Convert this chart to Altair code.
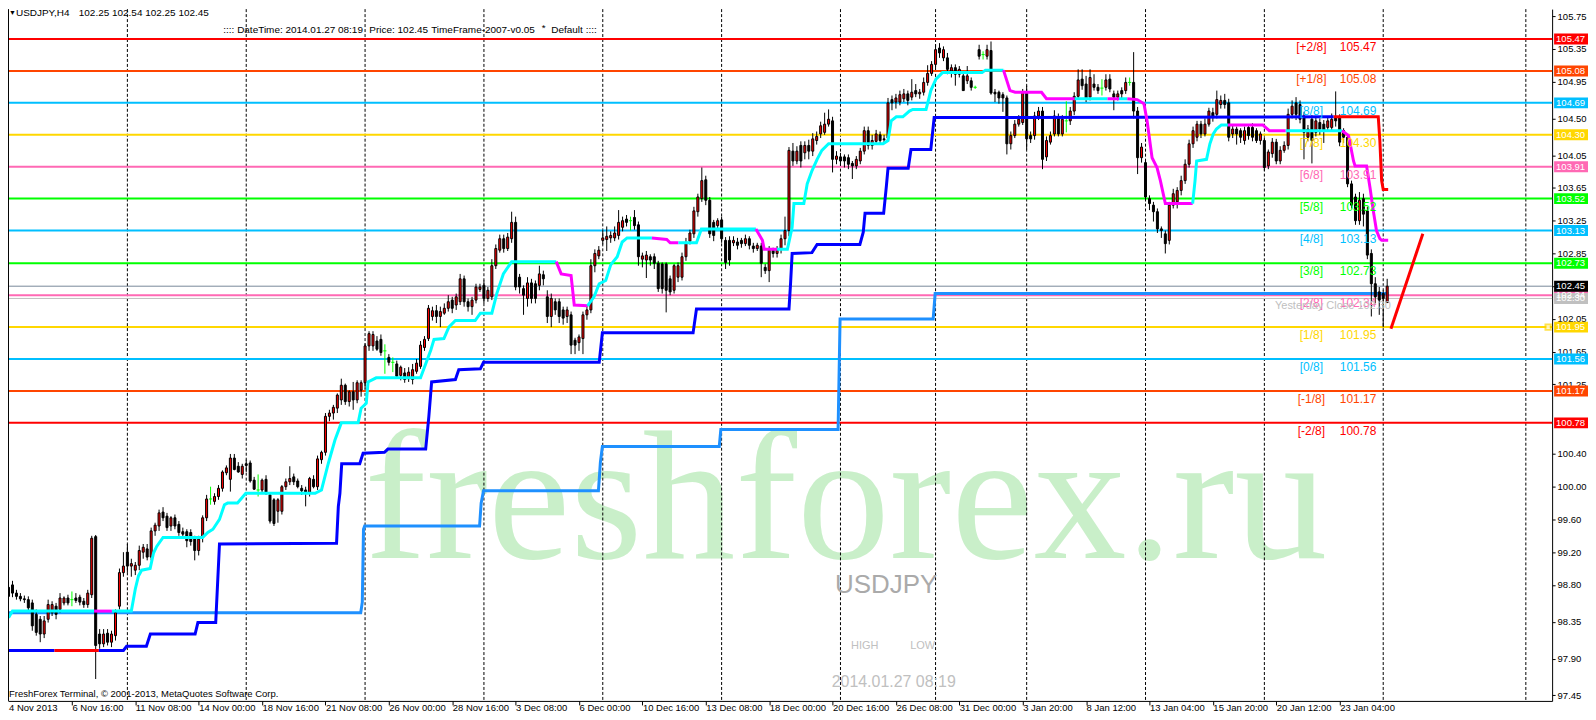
import altair as alt
import pandas as pd

# ---------------- bar data (USDJPY H4) ----------------
OPEN = [
98.77,98.80,98.70,98.66,98.63,98.62,98.58,98.44,98.38,98.20,
98.38,98.46,98.54,98.50,98.58,98.64,98.62,98.64,98.65,98.60,
98.56,98.68,99.39,98.20,98.08,98.21,98.10,98.18,98.54,98.95,
99.20,99.03,98.98,99.04,99.20,99.24,99.14,99.46,99.52,99.69,
99.64,99.52,99.62,99.54,99.45,99.45,99.44,99.36,99.22,99.38,
99.62,99.85,99.82,99.88,99.98,100.17,100.09,100.35,100.25,100.15,
100.28,100.29,100.08,99.96,99.96,100.09,99.90,99.84,99.70,99.70,
100.00,100.06,100.12,100.07,99.98,99.96,99.93,100.09,100.00,100.33,
100.42,100.86,100.90,100.96,101.06,101.24,101.04,101.16,101.06,101.18,
101.27,101.72,101.72,101.78,101.80,101.66,101.58,101.52,101.50,101.36,
101.39,101.32,101.31,101.41,101.47,101.70,101.81,102.08,102.15,102.08,
102.12,102.18,102.28,102.22,102.26,102.54,102.26,102.20,102.28,102.41,
102.46,102.30,102.32,102.70,102.89,103.03,102.91,103.03,103.23,102.56,
102.42,102.30,102.49,102.48,102.46,102.59,102.32,102.08,102.26,102.26,
102.16,102.08,102.10,101.79,101.76,101.81,102.10,102.16,102.70,102.82,
103.01,103.02,103.04,103.04,103.07,103.17,103.27,103.25,103.29,103.20,
102.78,102.77,102.81,102.81,102.73,102.72,102.72,102.54,102.40,102.56,
102.56,102.81,103.00,103.09,103.36,103.52,103.75,103.50,103.23,103.19,
103.26,103.01,103.01,102.98,102.99,103.01,102.97,103.03,102.94,102.91,
102.94,102.68,102.64,102.89,102.85,102.91,103.03,103.13,104.10,103.98,
104.17,104.08,104.17,104.10,104.23,104.31,104.33,104.43,104.47,104.00,
104.03,104.03,104.02,103.95,103.92,103.98,104.10,104.35,104.17,104.22,
104.30,104.25,104.26,104.73,104.70,104.70,104.74,104.80,104.76,104.84,
104.80,104.82,104.94,105.05,105.16,105.36,105.24,105.24,105.08,105.12,
105.04,105.02,104.96,104.96,104.88,105.34,105.28,105.26,105.33,104.82,
104.82,104.79,104.75,104.19,104.29,104.43,104.45,104.82,104.29,104.29,
104.53,104.59,104.03,104.21,104.31,104.51,104.31,104.47,104.47,104.59,
104.77,104.98,104.92,104.76,104.92,104.88,104.87,104.88,104.98,104.80,
104.76,104.84,104.84,104.94,104.94,104.59,104.02,103.96,103.52,103.44,
103.36,103.15,103.09,103.01,103.44,103.48,103.62,103.74,103.94,104.19,
104.27,104.43,104.31,104.43,104.57,104.55,104.67,104.72,104.69,104.31,
104.37,104.35,104.23,104.39,104.39,104.35,104.23,104.23,103.92,104.07,
104.21,103.98,104.11,104.17,104.55,104.69,104.67,104.53,104.27,104.49,
104.33,104.45,104.43,104.39,104.39,104.51,104.51,104.35,104.27,103.70,
103.54,103.25,103.52,103.37,102.85,102.48,102.38,102.36,102.25]
HIGH = [
98.84,98.85,98.74,98.70,98.67,98.66,98.62,98.50,98.42,98.42,
98.62,98.60,98.58,98.70,98.66,98.68,98.72,98.70,98.68,98.64,
98.74,99.40,99.41,98.26,98.26,98.26,98.24,98.50,99.00,99.20,
99.30,99.12,99.08,99.28,99.30,99.30,99.50,99.56,99.72,99.75,
99.68,99.64,99.66,99.58,99.50,99.48,99.48,99.40,99.40,99.65,
99.90,100.00,99.92,100.02,100.20,100.26,100.40,100.40,100.30,100.28,
100.33,100.32,100.12,100.15,100.10,100.14,99.92,99.86,99.86,100.02,
100.10,100.25,100.16,100.10,100.02,100.00,100.12,100.14,100.38,100.44,
100.90,100.94,101.00,101.14,101.32,101.26,101.18,101.28,101.30,101.30,
101.75,101.90,101.90,101.84,101.86,101.74,101.62,101.58,101.54,101.48,
101.45,101.46,101.50,101.56,101.78,101.84,102.22,102.20,102.22,102.20,
102.24,102.34,102.32,102.36,102.60,102.58,102.30,102.32,102.48,102.48,
102.52,102.44,102.78,102.96,103.08,103.08,103.10,103.36,103.30,102.60,
102.46,102.56,102.54,102.52,102.70,102.64,102.40,102.36,102.30,102.30,
102.20,102.20,102.14,101.82,101.86,102.14,102.22,102.78,102.90,102.94,
103.14,103.18,103.12,103.18,103.38,103.30,103.32,103.30,103.38,103.24,
102.86,102.88,102.84,102.85,102.76,102.74,102.74,102.58,102.72,102.74,
102.86,103.04,103.14,103.42,103.58,103.90,103.80,103.54,103.26,103.28,
103.30,103.05,103.06,103.06,103.04,103.04,103.08,103.06,102.98,102.98,
102.98,102.72,102.94,102.92,102.94,103.08,103.30,104.15,104.20,104.16,
104.22,104.22,104.24,104.32,104.34,104.46,104.57,104.61,104.52,104.10,
104.08,104.06,104.06,103.98,104.04,104.14,104.40,104.40,104.30,104.36,
104.34,104.30,104.75,104.78,104.80,104.84,104.86,104.84,104.98,104.92,
104.86,105.00,105.15,105.20,105.40,105.42,105.38,105.30,105.16,105.16,
105.14,105.08,105.14,105.00,104.90,105.40,105.32,105.40,105.44,104.86,
104.84,104.82,104.78,104.34,104.48,104.54,104.86,104.90,104.34,104.58,
104.64,104.64,104.28,104.34,104.60,104.56,104.54,104.71,104.64,104.82,
105.10,105.10,105.02,105.10,105.04,104.92,104.98,105.04,105.04,104.84,
104.84,104.88,105.00,105.00,105.31,104.64,104.20,104.00,103.56,103.48,
103.40,103.18,103.13,103.48,103.64,103.66,103.80,104.00,104.24,104.40,
104.47,104.47,104.50,104.63,104.63,104.84,104.78,104.80,104.74,104.42,
104.40,104.38,104.40,104.42,104.44,104.38,104.34,104.27,104.12,104.26,
104.25,104.16,104.22,104.62,104.72,104.76,104.72,104.58,104.42,104.54,
104.52,104.50,104.48,104.52,104.56,104.83,104.55,104.38,104.30,103.74,
103.58,103.60,103.58,103.42,102.90,102.56,102.44,102.40,102.54]
LOW = [
98.62,98.65,98.62,98.60,98.58,98.48,98.24,98.18,98.10,98.15,
98.34,98.42,98.38,98.46,98.55,98.55,98.54,98.58,98.55,98.52,
98.52,98.64,97.65,98.02,98.04,98.06,98.04,98.12,98.50,98.90,
98.95,98.90,98.92,98.98,99.12,99.10,99.10,99.40,99.46,99.58,
99.46,99.46,99.48,99.40,99.38,99.26,99.28,99.10,99.16,99.32,
99.58,99.78,99.78,99.84,99.94,100.14,99.94,100.20,100.17,100.10,
100.18,100.05,99.96,99.88,99.92,99.90,99.55,99.52,99.56,99.66,
99.96,100.02,100.02,99.98,99.90,99.76,99.88,99.98,99.96,100.28,
100.38,100.80,100.82,100.90,101.00,101.00,100.98,100.94,101.02,101.10,
101.20,101.66,101.66,101.66,101.60,101.38,101.48,101.40,101.32,101.30,
101.27,101.28,101.25,101.38,101.44,101.66,101.78,102.03,102.00,101.95,
102.10,102.14,102.12,102.16,102.22,102.20,102.14,102.10,102.24,102.38,
102.24,102.26,102.28,102.66,102.86,102.86,102.88,102.98,102.40,102.36,
102.10,102.20,102.24,102.24,102.40,102.46,102.00,101.95,102.10,102.00,
101.98,102.00,101.62,101.62,101.66,101.62,102.04,102.12,102.62,102.78,
102.96,102.88,102.98,103.00,103.02,103.12,103.18,103.13,103.14,102.70,
102.68,102.55,102.70,102.66,102.38,102.36,102.13,102.34,102.36,102.50,
102.52,102.76,102.96,103.04,103.30,103.48,103.44,103.04,103.00,103.14,
102.98,102.66,102.70,102.94,102.90,102.92,102.94,102.90,102.86,102.88,
102.56,102.60,102.50,102.80,102.80,102.85,102.95,103.06,103.92,103.94,
103.90,104.00,104.00,104.04,104.18,104.26,104.30,104.40,103.84,103.94,
103.92,103.90,103.88,103.76,103.88,103.94,104.06,104.12,104.12,104.18,
104.20,104.20,104.22,104.60,104.62,104.66,104.70,104.66,104.72,104.76,
104.74,104.78,104.90,105.02,105.10,105.24,105.20,105.04,105.00,104.90,
105.00,104.84,104.92,104.84,104.86,105.22,105.22,105.22,104.79,104.70,
104.68,104.58,104.06,104.12,104.26,104.40,104.42,104.12,104.20,104.24,
104.48,103.88,103.98,104.18,104.28,104.28,104.28,104.33,104.42,104.54,
104.74,104.85,104.70,104.72,104.84,104.80,104.78,104.84,104.82,104.60,
104.72,104.74,104.80,104.90,104.50,103.82,103.96,103.50,103.38,103.24,
103.10,103.04,102.85,102.96,103.40,103.40,103.56,103.70,103.90,104.14,
104.22,104.26,104.28,104.40,104.46,104.50,104.62,104.62,104.22,104.26,
104.18,104.20,104.18,104.24,104.22,104.20,104.18,103.86,103.88,104.02,
103.94,103.94,104.08,104.12,104.50,104.48,104.44,104.00,104.22,103.95,
104.28,104.30,104.20,104.34,104.34,104.40,104.16,104.20,103.66,103.40,
103.20,103.20,103.18,102.78,102.08,102.24,102.10,101.95,102.25]
CLOSE = [
98.66,98.70,98.66,98.63,98.62,98.52,98.30,98.22,98.20,98.36,
98.56,98.56,98.44,98.64,98.64,98.58,98.62,98.61,98.59,98.56,
98.70,99.37,98.06,98.08,98.20,98.10,98.20,98.46,98.95,99.03,
99.03,99.06,99.04,99.22,99.26,99.14,99.46,99.53,99.68,99.62,
99.50,99.62,99.52,99.44,99.42,99.34,99.33,99.22,99.36,99.62,
99.85,99.85,99.88,99.98,100.18,100.23,100.35,100.21,100.18,100.25,
100.26,100.07,99.97,99.96,100.08,99.92,99.58,99.55,99.84,100.00,
100.06,100.10,100.06,100.00,99.95,99.93,100.10,100.00,100.34,100.42,
100.86,100.90,100.97,101.12,101.24,101.04,101.16,101.06,101.27,101.27,
101.72,101.87,101.86,101.68,101.64,101.66,101.52,101.52,101.35,101.46,
101.31,101.40,101.43,101.51,101.73,101.80,102.18,102.15,102.08,102.14,
102.18,102.26,102.18,102.32,102.54,102.26,102.20,102.28,102.44,102.44,
102.30,102.40,102.70,102.91,103.03,102.91,103.05,103.23,102.44,102.44,
102.34,102.49,102.30,102.30,102.60,102.54,102.08,102.30,102.16,102.08,
102.06,102.16,101.73,101.73,101.83,102.10,102.16,102.70,102.85,102.89,
103.04,103.06,103.07,103.10,103.23,103.25,103.23,103.25,103.19,102.81,
102.82,102.83,102.77,102.73,102.42,102.42,102.40,102.38,102.70,102.70,
102.81,102.97,103.10,103.37,103.54,103.74,103.50,103.09,103.07,103.25,
103.03,102.74,102.77,103.01,102.95,102.97,103.03,102.95,102.91,102.95,
102.73,102.64,102.89,102.85,102.89,103.03,103.13,104.11,103.98,104.10,
103.98,104.17,104.10,104.25,104.28,104.41,104.43,104.49,104.00,104.04,
103.98,103.98,103.94,103.92,104.00,104.10,104.35,104.17,104.23,104.31,
104.23,104.24,104.69,104.69,104.75,104.79,104.80,104.72,104.82,104.80,
104.82,104.94,105.05,105.16,105.34,105.30,105.34,105.10,105.12,105.04,
105.10,104.84,105.02,104.88,104.88,105.26,105.28,105.34,104.81,104.80,
104.75,104.75,104.19,104.29,104.43,104.49,104.82,104.25,104.25,104.53,
104.59,104.00,104.23,104.29,104.53,104.31,104.49,104.47,104.59,104.77,
104.97,104.90,104.75,105.00,104.88,104.84,104.87,104.97,104.86,104.76,
104.80,104.80,104.94,104.94,104.59,104.02,104.15,103.54,103.46,103.36,
103.15,103.13,102.97,103.44,103.58,103.62,103.74,103.94,104.19,104.35,
104.43,104.31,104.43,104.59,104.51,104.73,104.72,104.67,104.27,104.37,
104.31,104.27,104.35,104.29,104.27,104.23,104.31,103.90,104.09,104.21,
103.98,104.11,104.17,104.55,104.65,104.55,104.49,104.33,104.37,104.23,
104.47,104.37,104.35,104.47,104.49,104.47,104.21,104.27,103.70,103.44,
103.25,103.50,103.33,102.83,102.48,102.32,102.28,102.30,102.45]

# fast trailing line (cyan below price / magenta above price)
FAST_I = [0,1,21.6,26.1,31,32,32.8,33.6,35.75,36.6,37.4,39,49,50.3,51.6,53.25,54.5,55.3,57.8,59.9,
          77.4,79,80.75,82.4,84,88.25,89,90.3,90.75,92.8,104,106.6,107.4,109.9,111.15,112.8,117.8,119.1,122,123.25,
          124.9,127,138.25,139.5,142,142.8,146.15,147.8,149.1,150.75,152,153.65,154.9,156.15,162.4,166.15,167,169.1,173.65,174.9,
          188.65,190.3,190.75,194,196.6,197.8,198.25,200.75,201.6,202.8,204.1,205.3,207,220.75,222,222.8,224.1,225.75,227.4,228.25,
          231.6,232.4,232.8,234.1,235.75,245.75,246.6,251.15,252.8,254.1,260.75,262,269.1,277.4,280.3,282.4,284.9,286.6,287.4,288.65,
          289.9,290.75,292,298.9,299.5,299.9,302.4,303.25,304.1,304.9,306.15,307.8,316.6,318.25,322.4,336.6,338.25,339.5,339.9,342.8,
          343.65,344.5,345.3,346.15,346.6,348.25]
FAST_P = [98.40,98.48,98.48,98.48,98.48,98.75,98.91,98.98,99.00,99.19,99.27,99.38,99.38,99.44,99.48,99.60,99.78,99.80,99.80,99.92,
          99.92,99.96,100.29,100.57,100.78,100.78,100.96,101.02,101.28,101.33,101.33,101.67,101.80,101.81,101.95,102.03,102.03,102.12,102.12,102.36,
          102.60,102.75,102.75,102.60,102.58,102.22,102.21,102.32,102.48,102.52,102.71,102.81,102.99,103.04,103.04,103.02,102.98,102.98,102.98,103.15,
          103.15,103.01,102.90,102.90,102.90,103.17,103.46,103.46,103.70,103.86,104.00,104.11,104.19,104.19,104.23,104.47,104.52,104.52,104.59,104.61,
          104.61,104.76,104.84,104.98,105.06,105.06,105.09,105.09,104.84,104.82,104.82,104.74,104.74,104.74,104.74,104.74,104.73,104.68,104.47,104.02,
          103.90,103.74,103.46,103.46,103.74,103.98,104.00,104.19,104.31,104.37,104.42,104.42,104.42,104.35,104.35,104.35,104.29,103.98,103.92,103.92,
          103.66,103.37,103.13,103.03,103.01,103.01]
FAST_C = list("cccm" + "ccccccccccccccccccccccccccccccccccccccc" + "mmmm" + "cccccccc" + "mmm" + "ccc" + "mmm"
              + "cccccccccccccccccccccccc" + "mmmmm" + "c" + "m" + "c" + "mmmmmmmm" + "cccccccc" + "mmm" + "c" + "mmmmmmmmmm")

# medium stepped line (blue, red when above price)
MID_I = [0,11.6,22.8,29.0,29.8,34.8,35.8,47.1,47.8,52.3,53.25,82.8,83.25,83.65,84.1,88.65,89.5,94.9,95.75,105.3,
         106.1,106.8,112.8,113.65,119.1,119.9,149.1,149.9,172.8,173.65,197.0,197.4,197.8,202.8,204.1,214.9,215.75,216.2,220.9,221.6,
         222.0,227.1,227.8,232.8,233.65,334.5,345.75,346.15,346.6,347.0,348.25]
MID_P = [98.00,98.00,98.00,98.00,98.05,98.05,98.20,98.20,98.34,98.34,99.30,99.31,99.76,99.92,100.28,100.28,100.41,100.42,100.46,100.46,
         100.86,101.28,101.31,101.43,101.44,101.52,101.52,101.88,101.88,102.17,102.17,102.48,102.85,102.86,102.96,102.96,103.11,103.34,103.34,103.68,
         103.89,103.89,104.12,104.12,104.51,104.52,104.52,104.23,103.74,103.63,103.63]
MID_C = list("bbr" + "b" * 43 + "rrrrr")

# slow weekly stepped line (dodger blue)
SLOW_I = [0, 88.9, 89.3, 89.6, 89.9, 118.9, 119.3, 119.9, 148.9, 149.4, 149.9, 179.4, 179.8, 209.4, 209.9, 233.4, 233.9, 348.3]
SLOW_P = [98.46, 98.46, 98.59, 99.48, 99.52, 99.52, 99.80, 99.95, 99.95, 100.30, 100.49, 100.49, 100.70, 100.70, 102.05, 102.05, 102.36, 102.36]

# red projection line at the right
SLOPE_I = [348.95, 357.0]
SLOPE_P = [101.93, 103.09]

# Murrey math levels
LEVELS = [105.47, 105.08, 104.69, 104.30, 103.91, 103.52, 103.13, 102.73, 102.34, 101.95, 101.56, 101.17, 100.78]
LEVEL_NAMES = ["[+2/8]", "[+1/8]", "[8/8]", "[7/8]", "[6/8]", "[5/8]", "[4/8]", "[3/8]", "[2/8]", "[1/8]", "[0/8]", "[-1/8]", "[-2/8]"]
LEVEL_COLORS = ["#FF0000", "#FF4500", "#00BFFF", "#FFD700", "#FF69B4", "#00FF00", "#00BFFF", "#00FF00", "#FF69B4", "#FFD700", "#00BFFF", "#FF4500", "#FF0000"]
BID = 102.45
YEST_CLOSE = 102.30

GRID_BARS = [30, 60, 90, 120, 150, 180, 210, 234, 257, 287, 317, 347, 383]
DATE_LABELS = ["4 Nov 2013", "6 Nov 16:00", "11 Nov 08:00", "14 Nov 00:00", "18 Nov 16:00", "21 Nov 08:00",
               "26 Nov 00:00", "28 Nov 16:00", "3 Dec 08:00", "6 Dec 00:00", "10 Dec 16:00", "13 Dec 08:00",
               "18 Dec 00:00", "20 Dec 16:00", "26 Dec 08:00", "31 Dec 00:00", "3 Jan 20:00", "8 Jan 12:00",
               "13 Jan 04:00", "15 Jan 20:00", "20 Jan 12:00", "23 Jan 04:00"]
PRICE_TICKS = [105.75, 105.35, 104.95, 104.50, 104.05, 103.65, 103.25, 102.85, 102.45, 102.05,
               101.65, 101.25, 100.40, 100.00, 99.60, 99.20, 98.80, 98.35, 97.90, 97.45]

# ---------------- chart ----------------
FONT = "Liberation Sans"
W, H = 1549, 694
XD = [1.125, 388.375]
YD = [97.3825, 105.8356]

label_expr = "[" + ",".join("'%s'" % s for s in DATE_LABELS) + "][round(datum.value/16)]"
x_axis = alt.Axis(orient="bottom", values=[16 * k for k in range(1, len(DATE_LABELS))], labelExpr=label_expr,
                  title=None, grid=False, ticks=True, tickSize=4, tickColor="black", domainColor="black",
                  labelAlign="left", labelBaseline="alphabetic", labelPadding=6,
                  labelFont=FONT, labelFontSize=9.5, labelColor="black", labelOverlap=False, labelFlush=False)
y_axis = alt.Axis(orient="right", values=PRICE_TICKS, format=".2f", title=None, grid=False,
                  tickSize=3, tickColor="black", domainColor="black", labelPadding=2, labelFont=FONT,
                  labelFontSize=9.5, labelColor="black", labelOverlap=False, labelFlush=False, labelBaseline="middle")


def X(f):
    return alt.X(f"{f}:Q", scale=alt.Scale(domain=XD, nice=False, zero=False), axis=x_axis)


def Y(f):
    return alt.Y(f"{f}:Q", scale=alt.Scale(domain=YD, nice=False, zero=False), axis=y_axis)


one = pd.DataFrame({"a": [0]})

rows = []
for k in range(len(OPEN)):
    o, h, l, c = OPEN[k], HIGH[k], LOW[k], CLOSE[k]
    kind = "up" if c > o else ("down" if c < o else "doji")
    rows.append(dict(i=k, o=o, h=h, l=l, c=c, top=max(o, c), bot=min(o, c), kind=kind,
                     i0=k - 0.4, i1=k + 0.4,
                     wc="#00FF00" if kind == "doji" else "#000000",
                     fc="#FF0000" if kind == "up" else "#000000"))
cd = pd.DataFrame(rows)


def seg_df(xs, ys, cs, cmap):
    out = []
    seg = 0
    prev = None
    n = 0
    for k in range(1, len(xs)):
        if cs[k] != prev:
            seg += 1
            out.append(dict(s=seg, o=n, i=xs[k - 1], p=ys[k - 1], col=cmap[cs[k]]))
            n += 1
        out.append(dict(s=seg, o=n, i=xs[k], p=ys[k], col=cmap[cs[k]]))
        n += 1
        prev = cs[k]
    return pd.DataFrame(out)


fast = seg_df(FAST_I, FAST_P, FAST_C, {"c": "#00FFFF", "m": "#FF00FF"})
mid = seg_df(MID_I, MID_P, MID_C, {"b": "#0000FF", "r": "#FF0000"})
slow = pd.DataFrame({"i": SLOW_I, "p": SLOW_P, "o": list(range(len(SLOW_I)))})
slope = pd.DataFrame({"i": SLOPE_I, "p": SLOPE_P})
lv = pd.DataFrame({"p": LEVELS, "name": LEVEL_NAMES, "col": LEVEL_COLORS,
                   "val": ["%.2f" % v for v in LEVELS]})
tags = pd.DataFrame({"p": LEVELS + [YEST_CLOSE, BID],
                     "col": LEVEL_COLORS + ["#C0C0C0", "#000000"]})
tags["lab"] = ["%.2f" % v for v in tags["p"]]
grid = pd.DataFrame({"i": GRID_BARS})


def txt(s, x, y, size, color, align="left", baseline="middle", font=FONT, **kw):
    return alt.Chart(one).mark_text(text=s, align=align, baseline=baseline, font=font, fontSize=size,
                                    color=color, **kw).encode(x=alt.value(x), y=alt.value(y))


layers = []
# watermark
layers.append(txt("freshforex.ru", 840.5, 551, 186, "#C9EFC9", align="center", baseline="alphabetic",
                  font="Liberation Serif"))
# vertical dashed grid
layers.append(alt.Chart(grid).mark_rule(color="black", strokeWidth=1, strokeDash=[3, 2]).encode(x=X("i")))
# Murrey lines
layers.append(alt.Chart(lv).mark_rule(strokeWidth=2).encode(y=Y("p"), color=alt.Color("col:N", scale=None)))
# yesterday close and bid lines
layers.append(alt.Chart(pd.DataFrame({"p": [YEST_CLOSE]})).mark_rule(color="#C0C0C0", strokeWidth=1).encode(y=Y("p")))
layers.append(alt.Chart(pd.DataFrame({"p": [BID]})).mark_rule(color="#778899", strokeWidth=1).encode(y=Y("p")))
# slow line
layers.append(alt.Chart(slow).mark_line(color="#1E90FF", strokeWidth=3).encode(x=X("i"), y=Y("p"), order="o:Q"))
# candles
layers.append(alt.Chart(cd).mark_rule(strokeWidth=1).encode(x=X("i"), y=Y("l"), y2="h",
                                                           color=alt.Color("wc:N", scale=None)))
layers.append(alt.Chart(cd[cd.kind != "doji"]).mark_bar(width=2, stroke="black", strokeWidth=1).encode(
    x=X("i"), y=Y("top"), y2="bot", fill=alt.Fill("fc:N", scale=None)))
layers.append(alt.Chart(cd[cd.kind == "doji"]).mark_rule(color="#00FF00", strokeWidth=1).encode(
    x=X("i0"), x2="i1", y=Y("o")))
# medium and fast lines
layers.append(alt.Chart(mid).mark_line(strokeWidth=3).encode(
    x=X("i"), y=Y("p"), detail="s:N", order="o:Q", color=alt.Color("col:N", scale=None)))
layers.append(alt.Chart(fast).mark_line(strokeWidth=3).encode(
    x=X("i"), y=Y("p"), detail="s:N", order="o:Q", color=alt.Color("col:N", scale=None)))
layers.append(alt.Chart(slope).mark_line(color="#FF0000", strokeWidth=3).encode(x=X("i"), y=Y("p")))
# Murrey labels
layers.append(alt.Chart(lv).mark_text(align="center", baseline="middle", dy=8, font=FONT, fontSize=12).encode(
    x=alt.value(1307.5), y=Y("p"), text="name:N", color=alt.Color("col:N", scale=None)))
layers.append(alt.Chart(lv).mark_text(align="left", baseline="middle", dy=8, font=FONT, fontSize=12).encode(
    x=alt.value(1336), y=Y("p"), text="val:N", color=alt.Color("col:N", scale=None)))
layers.append(txt("Yesterday Close 102.30", 1271, 298, 11, "#C0C0C0"))
# gold anchor square
layers.append(alt.Chart(pd.DataFrame({"p": [101.95]})).mark_square(size=28, filled=True, fill="white",
                                                                   stroke="#FFD700", strokeWidth=2).encode(
    x=alt.value(1545), y=Y("p")))
# right price tags
layers.append(alt.Chart(tags).mark_rule(strokeWidth=11).encode(
    x=alt.value(1551), x2=alt.value(1585), y=Y("p"), color=alt.Color("col:N", scale=None)))
layers.append(alt.Chart(tags).mark_text(align="left", baseline="middle", font=FONT, fontSize=9.5, color="white").encode(
    x=alt.value(1553), y=Y("p"), text="lab:N"))
# centre info texts
layers.append(txt("USDJPY", 881, 578, 26, "#AAAAAA", align="center"))
layers.append(txt("HIGH", 859.5, 639, 11, "#C0C0C0", align="center"))
layers.append(txt("LOW", 917.5, 639, 11, "#C0C0C0", align="center"))
layers.append(txt("2014.01.27 08:19", 888.5, 675, 16, "#C0C0C0", align="center"))
# header texts
layers.append(txt("\u25BC", 1, 4, 7, "black"))
layers.append(txt("USDJPY,H4", 8, 4, 10, "black"))
layers.append(txt("102.25 102.54 102.25 102.45", 71, 4, 10, "black"))
layers.append(txt(":::: DateTime: 2014.01.27 08:19", 216, 21, 10, "black"))
layers.append(txt("Price: 102.45", 362.5, 21, 10, "black"))
layers.append(txt("TimeFrame-2007-v0.05", 424.5, 21, 10, "black"))
layers.append(txt("*", 535.5, 19, 10, "black"))
layers.append(txt("Default", 545, 21, 10, "black"))
layers.append(txt("::::", 579.5, 21, 10, "black"))
layers.append(txt("FreshForex Terminal, \u00A9 2001-2013, MetaQuotes Software Corp.", 1, 687, 9.5, "black"))
layers.append(txt("4 Nov 2013", 1, H + 10, 9.5, "black", baseline="alphabetic"))
# left frame
layers.append(alt.Chart(one).mark_rule(color="black", strokeWidth=1).encode(
    x=alt.value(0.5), y=alt.value(0), y2=alt.value(H)))

chart = alt.layer(*layers).properties(
    width=W, height=H,
    padding={"left": 0, "top": 0, "right": 36, "bottom": 10},
    autosize=alt.AutoSizeParams(type="none"),
    background="white",
).configure_view(stroke=None)

chart.save("out.html", embed_options={"renderer": "svg", "actions": False})
